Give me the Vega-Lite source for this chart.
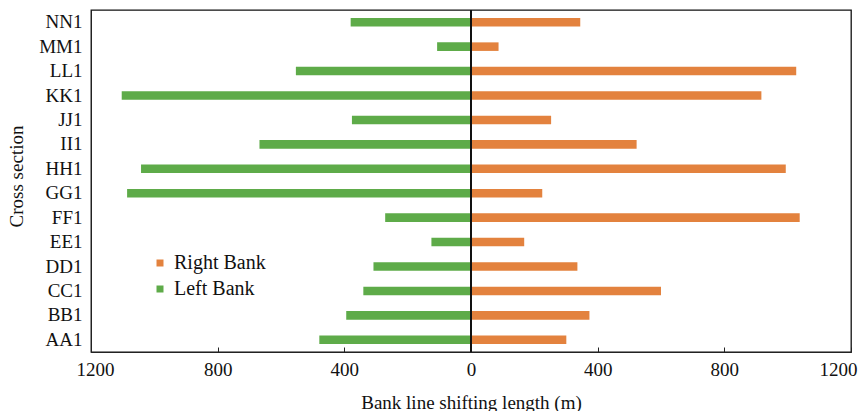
{
  "$schema": "https://vega.github.io/schema/vega-lite/v6.json",
  "width": 760,
  "height": 342,
  "autosize": {"type": "none"},
  "padding": {"left": 91, "top": 10, "right": 9, "bottom": 59},
  "background": "white",
  "config": {
    "font": "Liberation Serif",
    "view": {"stroke": "#111", "strokeWidth": 1.3},
    "axis": {"domainColor": "#222", "tickColor": "#222", "labelColor": "#111", "titleColor": "#111", "grid": false, "labelFontSize": 19, "titleFontSize": 19, "titleFontWeight": "normal", "labelFont": "Liberation Serif", "titleFont": "Liberation Serif"}
  },
  "data": {
    "values": [
      {"section": "NN1", "bank": "Left Bank", "value": -380},
      {"section": "NN1", "bank": "Right Bank", "value": 345},
      {"section": "MM1", "bank": "Left Bank", "value": -107},
      {"section": "MM1", "bank": "Right Bank", "value": 87},
      {"section": "LL1", "bank": "Left Bank", "value": -553},
      {"section": "LL1", "bank": "Right Bank", "value": 1027},
      {"section": "KK1", "bank": "Left Bank", "value": -1103},
      {"section": "KK1", "bank": "Right Bank", "value": 917},
      {"section": "JJ1", "bank": "Left Bank", "value": -376},
      {"section": "JJ1", "bank": "Right Bank", "value": 253},
      {"section": "II1", "bank": "Left Bank", "value": -668},
      {"section": "II1", "bank": "Right Bank", "value": 523},
      {"section": "HH1", "bank": "Left Bank", "value": -1042},
      {"section": "HH1", "bank": "Right Bank", "value": 994},
      {"section": "GG1", "bank": "Left Bank", "value": -1086},
      {"section": "GG1", "bank": "Right Bank", "value": 225},
      {"section": "FF1", "bank": "Left Bank", "value": -271},
      {"section": "FF1", "bank": "Right Bank", "value": 1038},
      {"section": "EE1", "bank": "Left Bank", "value": -125},
      {"section": "EE1", "bank": "Right Bank", "value": 168},
      {"section": "DD1", "bank": "Left Bank", "value": -308},
      {"section": "DD1", "bank": "Right Bank", "value": 336},
      {"section": "CC1", "bank": "Left Bank", "value": -340},
      {"section": "CC1", "bank": "Right Bank", "value": 600},
      {"section": "BB1", "bank": "Left Bank", "value": -394},
      {"section": "BB1", "bank": "Right Bank", "value": 374},
      {"section": "AA1", "bank": "Left Bank", "value": -479},
      {"section": "AA1", "bank": "Right Bank", "value": 301}
    ]
  },
  "layer": [
    {
      "mark": {"type": "bar"},
      "encoding": {
        "y": {
          "field": "section",
          "type": "nominal",
          "sort": ["NN1", "MM1", "LL1", "KK1", "JJ1", "II1", "HH1", "GG1", "FF1", "EE1", "DD1", "CC1", "BB1", "AA1"],
          "scale": {"paddingInner": 0.65, "paddingOuter": 0.325},
          "axis": {"title": "Cross section", "ticks": false, "labelPadding": 9, "titleAngle": -90, "titleX": -75, "titleY": 166, "titleBaseline": "middle", "titleAlign": "center"}
        },
        "x": {
          "field": "value",
          "type": "quantitative",
          "scale": {"domain": [-1200, 1200], "nice": false},
          "axis": {
            "title": "Bank line shifting length (m)",
            "values": [-1200, -800, -400, 0, 400, 800, 1200],
            "labelExpr": "abs(datum.value)",
            "tickSize": -5,
            "labelPadding": 13,
            "titleY": 56,
            "titleBaseline": "alphabetic",
            "labelFlush": false,
            "labelOffset": {"condition": [{"test": "datum.value >= 1200", "value": -13}, {"test": "datum.value <= -1200", "value": 4}], "value": 0}
          }
        },
        "color": {
          "field": "bank",
          "type": "nominal",
          "scale": {"domain": ["Right Bank", "Left Bank"], "range": ["#E3823E", "#5EAB49"]},
          "legend": {"title": null, "orient": "none", "legendX": 59, "legendY": 243, "symbolType": "square", "symbolSize": 49, "symbolStrokeWidth": 0, "labelFontSize": 20, "labelFont": "Liberation Serif", "labelColor": "#111", "rowPadding": 6, "labelOffset": 4, "padding": 0}
        }
      }
    },
    {
      "mark": {"type": "rule", "color": "#111", "strokeWidth": 1.3},
      "encoding": {"x": {"datum": 0}}
    }
  ]
}
